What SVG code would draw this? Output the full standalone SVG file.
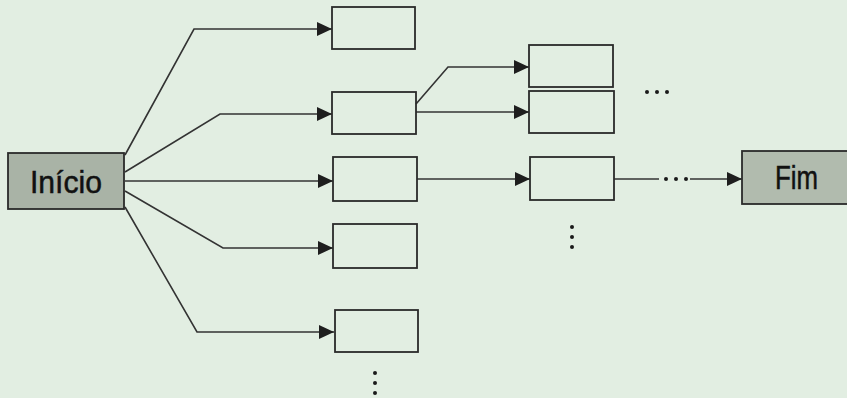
<svg xmlns="http://www.w3.org/2000/svg" width="847" height="398" viewBox="0 0 847 398">
<style>
.bg{fill:#e2eee2}
.box{fill:none;stroke:#2a2a2a;stroke-width:1.8}
.term{fill:#a9b3a6;stroke:#2a2a2a;stroke-width:1.8}
.lbl{font-family:"Liberation Sans",Arial,sans-serif;fill:#111;stroke:#111;stroke-width:0.5}
.edge{fill:none;stroke:#333;stroke-width:1.6}
.dot{fill:#1a1a1a}
</style>
<defs>
<marker id="ah" markerUnits="userSpaceOnUse" markerWidth="16" markerHeight="15" refX="15" refY="7.5" orient="auto">
<path d="M0,0.5 L15,7.5 L0,14.5 Z" fill="#1e1e1e"/>
</marker>
</defs>
<rect class="bg" x="0" y="0" width="847" height="398"/>
<g id="connectors">
<path class="edge" marker-end="url(#ah)" d="M125,155 L194,29 L332,29"/>
<path class="edge" marker-end="url(#ah)" d="M125,172 L220,114 L332,114"/>
<path class="edge" marker-end="url(#ah)" d="M125,181 L333,181"/>
<path class="edge" marker-end="url(#ah)" d="M125,191 L223,248 L333,248"/>
<path class="edge" marker-end="url(#ah)" d="M125,207 L197,332 L334,332"/>
<path class="edge" marker-end="url(#ah)" d="M416,104 L448,67 L529,67"/>
<path class="edge" marker-end="url(#ah)" d="M416,112 L529,112"/>
<path class="edge" marker-end="url(#ah)" d="M417,179 L530,179"/>
<path class="edge" d="M614,179 L659,179"/>
<path class="edge" marker-end="url(#ah)" d="M690,179 L742,179"/>
<g class="dot">
<circle cx="666" cy="179" r="2"/><circle cx="676" cy="179" r="2"/><circle cx="686" cy="179" r="2"/>
</g>
</g>
<g id="inicio">
<rect class="term" x="8" y="153" width="116" height="56"/>
<text class="lbl" x="30" y="193" font-size="32" textLength="72" lengthAdjust="spacingAndGlyphs">Início</text>
</g>
<g id="fim">
<rect class="term" x="742" y="151" width="115" height="53" style="fill:#b1bbae"/>
<text class="lbl" x="775" y="189" font-size="33" textLength="43" lengthAdjust="spacingAndGlyphs">Fim</text>
</g>
<g id="a1"><rect class="box" x="332" y="7" width="83" height="42"/></g>
<g id="a2"><rect class="box" x="332" y="92" width="84" height="42"/></g>
<g id="a3"><rect class="box" x="333" y="157" width="84" height="44"/></g>
<g id="a4"><rect class="box" x="333" y="224" width="84" height="44"/></g>
<g id="a5"><rect class="box" x="335" y="310" width="83" height="42"/></g>
<g id="b1"><rect class="box" x="529" y="45" width="84" height="42"/></g>
<g id="b2"><rect class="box" x="529" y="91" width="85" height="42"/></g>
<g id="b3"><rect class="box" x="530" y="157" width="84" height="43"/></g>
<g id="ellipses" class="dot">
<circle cx="647" cy="92" r="2"/><circle cx="657" cy="92" r="2"/><circle cx="667" cy="92" r="2"/>
<circle cx="375" cy="373" r="2"/><circle cx="375" cy="383" r="2"/><circle cx="375" cy="393" r="2"/>
<circle cx="572" cy="227" r="2"/><circle cx="572" cy="237" r="2"/><circle cx="572" cy="247" r="2"/>
</g>
</svg>
